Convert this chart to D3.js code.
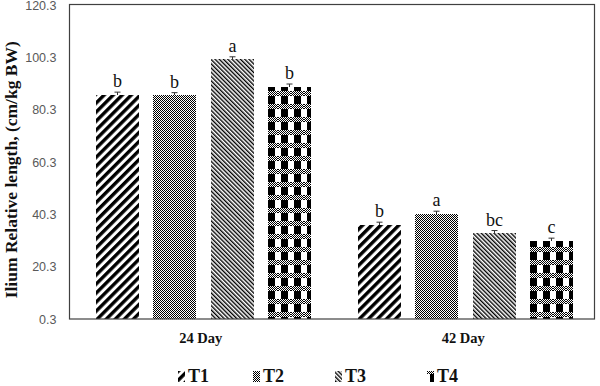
<!DOCTYPE html>
<html><head><meta charset="utf-8">
<script src="https://cdn.jsdelivr.net/npm/d3@7"></script>
<style>body{margin:0;background:#fff}svg{display:block}</style>
</head><body>
<svg id="c" width="600" height="386"></svg>
<script>
const categories = ["24 Day", "42 Day"];
const series = ["T1", "T2", "T3", "T4"];
const values = {
  T1: [85.8, 36.2],
  T2: [85.8, 40.3],
  T3: [99.5, 33.0],
  T4: [89.1, 30.2]
};
const errors = {
  T1: [1.2, 1.1],
  T2: [1.0, 1.2],
  T3: [1.0, 1.1],
  T4: [1.0, 1.0]
};
const letters = {
  T1: ["b", "b"],
  T2: ["b", "a"],
  T3: ["a", "bc"],
  T4: ["b", "c"]
};
const yTicks = [0.3, 20.3, 40.3, 60.3, 80.3, 100.3, 120.3];
const yTitle = "Ilium Relative length, (cm/kg BW)";

const svg = d3.select("#c");
const L = 69.5, R = 594.5, T = 4.5, B = 319;
const defs = svg.append("defs");

// fine checker
const chk = defs.append("pattern").attr("id","chk").attr("patternUnits","userSpaceOnUse")
  .attr("width",2).attr("height",2);
chk.append("rect").attr("width",2).attr("height",2).attr("fill","#fff");
chk.append("rect").attr("width",1).attr("height",1).attr("fill","#000");
chk.append("rect").attr("x",1).attr("y",1).attr("width",1).attr("height",1).attr("fill","#000");

// T1 thick / stripes
const p1 = defs.append("pattern").attr("id","pT1").attr("patternUnits","userSpaceOnUse")
  .attr("width",6.4).attr("height",6.4).attr("patternTransform","rotate(45)");
p1.append("rect").attr("width",6.4).attr("height",6.4).attr("fill","#fff");
p1.append("rect").attr("width",3.4).attr("height",6.4).attr("fill","#000");

// T2 checker
const p2 = defs.append("pattern").attr("id","pT2").attr("patternUnits","userSpaceOnUse")
  .attr("width",2).attr("height",2);
p2.append("rect").attr("width",2).attr("height",2).attr("fill","#fff");
p2.append("rect").attr("width",1).attr("height",1).attr("fill","#000");
p2.append("rect").attr("x",1).attr("y",1).attr("width",1).attr("height",1).attr("fill","#000");

// T3 thin \ lines
const p3 = defs.append("pattern").attr("id","pT3").attr("patternUnits","userSpaceOnUse")
  .attr("width",3).attr("height",3).attr("patternTransform","rotate(-45)");
p3.append("rect").attr("width",3).attr("height",3).attr("fill","#fff");
p3.append("rect").attr("width",1.4).attr("height",3).attr("fill","#000");

// T4 plaid
const p4 = defs.append("pattern").attr("id","pT4").attr("patternUnits","userSpaceOnUse")
  .attr("width",13).attr("height",13);
p4.append("rect").attr("width",13).attr("height",13).attr("fill","#fff");
p4.append("rect").attr("x",3).attr("width",7).attr("height",13).attr("fill","#000");
p4.append("rect").attr("y",0).attr("width",13).attr("height",5).attr("fill","url(#chk)");

const fills = {T1:"url(#pT1)", T2:"url(#pT2)", T3:"url(#pT3)", T4:"url(#pT4)"};

const y = d3.scaleLinear().domain([0.3, 120.3]).range([B, T + 0.5]);
const x0 = d3.scaleBand().domain(categories).range([L, R]);
const x1 = d3.scaleBand().domain(series).range([26, 241]).paddingInner(0.245).paddingOuter(0);

// bars
categories.forEach((c, ci) => {
  const g = svg.append("g").attr("transform", `translate(${Math.round(x0(c))},0)`);
  series.forEach(s => {
    const v = values[s][ci];
    const xb = Math.round(x1(s)), w = Math.round(x1.bandwidth());
    const yt = Math.round(y(v));
    g.append("rect").attr("x", xb).attr("y", yt)
      .attr("width", w).attr("height", B - yt)
      .attr("fill", fills[s]).attr("shape-rendering","crispEdges");
    const cx = xb + w / 2;
    const ye = y(v + errors[s][ci]);
    g.append("line").attr("x1", cx).attr("x2", cx).attr("y1", yt).attr("y2", ye)
      .attr("stroke", "#333").attr("stroke-width", 1);
    g.append("line").attr("x1", cx - 3).attr("x2", cx + 3).attr("y1", ye).attr("y2", ye)
      .attr("stroke", "#333").attr("stroke-width", 1);
    g.append("text").attr("x", cx).attr("y", ye - 5).attr("text-anchor","middle")
      .attr("font-family","Liberation Serif, serif").attr("font-size", 18)
      .attr("fill","#111").text(letters[s][ci]);
  });
});

// frame
svg.append("rect").attr("x", L).attr("y", T).attr("width", R - L).attr("height", B - T)
  .attr("fill","none").attr("stroke","#404040").attr("stroke-width",1.2);

// y axis
const yAxis = d3.axisLeft(y).tickValues(yTicks).tickSize(0).tickPadding(13).tickFormat(d3.format(".1f"));
const ya = svg.append("g").attr("transform", `translate(${L},0)`).call(yAxis);
ya.select(".domain").remove();
ya.selectAll("text").attr("font-family","Liberation Sans, Arial, sans-serif")
  .attr("font-size", 12.5).attr("fill","#595959");

// x axis labels
const xAxis = d3.axisBottom(x0).tickSize(0).tickPadding(14);
const xa = svg.append("g").attr("transform", `translate(0,${B})`).call(xAxis);
xa.select(".domain").remove();
xa.selectAll("text").attr("font-family","Liberation Serif, serif").attr("font-weight","bold")
  .attr("font-size", 14.5).attr("fill","#111");

// y title
svg.append("text").attr("transform", `translate(17,${(T + B) / 2 + 8}) rotate(-90)`)
  .attr("text-anchor","middle").attr("font-family","Liberation Serif, serif")
  .attr("font-weight","bold").attr("font-size", 17.5).attr("fill","#111").text(yTitle);

// legend
const legX = {T1: 178, T2: 253, T3: 335, T4: 427};
series.forEach(s => {
  const lg = svg.append("g").attr("transform", `translate(${legX[s]},369)`);
  lg.append("rect").attr("x",0).attr("y",2).attr("width",7).attr("height",11)
    .attr("fill", fills[s]).attr("shape-rendering","crispEdges");
  lg.append("text").attr("x", 10).attr("y", 13).attr("font-family","Liberation Serif, serif")
    .attr("font-weight","bold").attr("font-size", 18).attr("fill","#111").text(s);
});
</script>
</body></html>
